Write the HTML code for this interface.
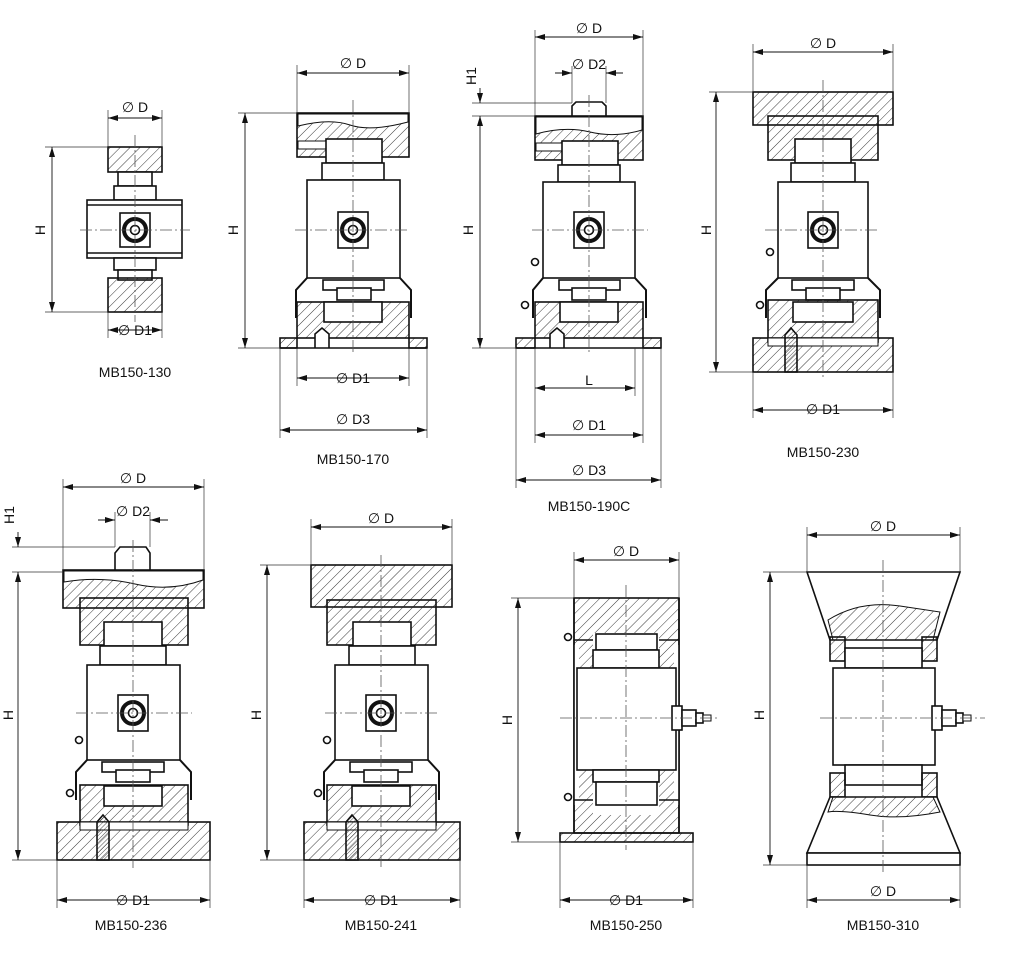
<!DOCTYPE html>
<html><head><meta charset="utf-8"><style>
html,body{margin:0;padding:0;background:#fff;}
svg{display:block;}
text{font-family:"Liberation Sans",sans-serif;fill:#111;}
</style></head><body>
<svg width="1024" height="960" viewBox="0 0 1024 960" xmlns="http://www.w3.org/2000/svg">
<defs>
<pattern id="h" width="7" height="7" patternUnits="userSpaceOnUse" patternTransform="rotate(45)"><line x1="0" y1="0" x2="0" y2="7" stroke="#222" stroke-width="0.9"/></pattern>
<pattern id="hd" width="3" height="3" patternUnits="userSpaceOnUse" patternTransform="rotate(45)"><line x1="0" y1="0" x2="0" y2="3" stroke="#222" stroke-width="0.8"/></pattern>
<marker id="a" viewBox="0 0 10 6" refX="10" refY="3" markerWidth="10" markerHeight="6" orient="auto-start-reverse" markerUnits="userSpaceOnUse"><path d="M0,0L10,3L0,6z" fill="#111"/></marker>
</defs>
<g fill="none" stroke="#111" stroke-width="1.6">

<!-- ============ MB150-130 ============ -->
<g>
<rect x="108" y="147" width="54" height="25" fill="url(#h)"/>
<rect x="118" y="172" width="34" height="14" fill="#fff"/>
<rect x="114" y="186" width="42" height="14" fill="#fff"/>
<rect x="87" y="200" width="95" height="58" fill="#fff"/>
<line x1="87" y1="205" x2="182" y2="205"/><line x1="87" y1="253" x2="182" y2="253"/>
<rect x="114" y="258" width="42" height="12" fill="#fff"/>
<rect x="118" y="270" width="34" height="10" fill="#fff"/>
<rect x="108" y="278" width="54" height="34" fill="url(#h)"/>
<rect x="120" y="213" width="30" height="34" fill="#fff"/>
<circle cx="135" cy="230" r="11" stroke-width="4"/><circle cx="135" cy="230" r="4.5"/>
</g>

<!-- ============ MB150-170 ============ -->
<g>
<rect x="297" y="113" width="112" height="44" fill="url(#h)"/>
<path d="M298,126 Q330,118 350,125 T408,122 L408,114 L298,114z" fill="#fff" stroke="#111" stroke-width="1"/>
<rect x="298" y="141" width="28" height="8" fill="#fff" stroke-width="1"/>
<rect x="326" y="139" width="56" height="24" fill="#fff"/>
<rect x="322" y="163" width="62" height="17" fill="#fff"/>
<rect x="307" y="180" width="93" height="98" fill="#fff"/>
<path d="M307,278 L296,290 L296,318 M400,278 L411,290 L411,318" stroke-width="2"/>
<rect x="323" y="280" width="61" height="10" fill="#fff"/>
<rect x="337" y="288" width="34" height="12" fill="#fff"/>
<rect x="297" y="302" width="112" height="36" fill="url(#h)"/>
<rect x="324" y="302" width="58" height="20" fill="#fff"/>
<path d="M315,348 L315,334 L322,328 L329,334 L329,348" fill="#fff"/>
<rect x="280" y="338" width="17" height="10" fill="url(#h)"/>
<rect x="409" y="338" width="18" height="10" fill="url(#h)"/>
<line x1="280" y1="348" x2="427" y2="348"/>
<rect x="338" y="212" width="30" height="36" fill="#fff"/>
<circle cx="353" cy="230" r="11" stroke-width="4"/><circle cx="353" cy="230" r="4.5"/>
</g>

<!-- ============ MB150-190C ============ -->
<g>
<path d="M572,116 L572,106 L576,102 L602,102 L606,106 L606,116" fill="#fff"/>
<rect x="535" y="116" width="108" height="44" fill="url(#h)"/>
<path d="M536,134 Q565,126 590,132 T642,130 L642,117 L536,117z" fill="#fff" stroke-width="1"/>
<rect x="536" y="143" width="26" height="8" fill="#fff" stroke-width="1"/>
<rect x="562" y="141" width="56" height="24" fill="#fff"/>
<rect x="558" y="165" width="62" height="17" fill="#fff"/>
<rect x="543" y="182" width="92" height="96" fill="#fff"/>
<path d="M543,278 L533,290 L533,318 M635,278 L646,290 L646,318" stroke-width="2"/>
<circle cx="535" cy="262" r="3.5"/><circle cx="525" cy="305" r="3.5"/>
<rect x="559" y="280" width="61" height="10" fill="#fff"/>
<rect x="572" y="288" width="34" height="12" fill="#fff"/>
<rect x="535" y="302" width="108" height="36" fill="url(#h)"/>
<rect x="560" y="302" width="58" height="20" fill="#fff"/>
<path d="M550,348 L550,334 L557,328 L564,334 L564,348" fill="#fff"/>
<rect x="516" y="338" width="19" height="10" fill="url(#h)"/>
<rect x="643" y="338" width="18" height="10" fill="url(#h)"/>
<line x1="516" y1="348" x2="661" y2="348"/>
<rect x="574" y="212" width="30" height="36" fill="#fff"/>
<circle cx="589" cy="230" r="11" stroke-width="4"/><circle cx="589" cy="230" r="4.5"/>
</g>

<!-- ============ MB150-230 ============ -->
<g>
<rect x="753" y="92" width="140" height="33" fill="url(#h)"/>
<rect x="768" y="116" width="110" height="44" fill="url(#h)"/>
<rect x="795" y="139" width="56" height="24" fill="#fff"/>
<rect x="791" y="163" width="64" height="19" fill="#fff"/>
<rect x="778" y="182" width="90" height="96" fill="#fff"/>
<path d="M778,278 L766,290 L766,318 M868,278 L880,290 L880,318" stroke-width="2"/>
<circle cx="770" cy="252" r="3.5"/><circle cx="760" cy="305" r="3.5"/>
<rect x="792" y="280" width="62" height="10" fill="#fff"/>
<rect x="806" y="288" width="34" height="12" fill="#fff"/>
<rect x="768" y="300" width="110" height="42" fill="url(#h)"/>
<rect x="793" y="302" width="60" height="20" fill="#fff"/>
<rect x="753" y="338" width="140" height="34" fill="url(#h)"/>
<rect x="768" y="338" width="110" height="8" fill="#fff" stroke-width="1"/>
<path d="M785,372 L785,335 L791,328 L797,335 L797,372z" fill="url(#hd)"/>
<rect x="808" y="212" width="30" height="36" fill="#fff"/>
<circle cx="823" cy="230" r="11" stroke-width="4"/><circle cx="823" cy="230" r="4.5"/>
</g>

<!-- ============ MB150-236 ============ -->
<g>
<path d="M115,570 L115,553 L120,547 L146,547 L150,553 L150,570" fill="#fff"/>
<rect x="63" y="570" width="141" height="38" fill="url(#h)"/>
<path d="M64,582 Q100,576 135,584 T203,580 L203,571 L64,571z" fill="#fff" stroke-width="1"/>
<rect x="80" y="598" width="108" height="47" fill="url(#h)"/>
<rect x="104" y="622" width="58" height="24" fill="#fff"/>
<rect x="100" y="646" width="66" height="19" fill="#fff"/>
<rect x="87" y="665" width="93" height="95" fill="#fff"/>
<path d="M87,760 L76,772 L76,800 M180,760 L191,772 L191,800" stroke-width="2"/>
<circle cx="79" cy="740" r="3.5"/><circle cx="70" cy="793" r="3.5"/>
<rect x="102" y="762" width="62" height="10" fill="#fff"/>
<rect x="116" y="770" width="34" height="12" fill="#fff"/>
<rect x="80" y="785" width="108" height="40" fill="url(#h)"/>
<rect x="104" y="786" width="58" height="20" fill="#fff"/>
<rect x="57" y="822" width="153" height="38" fill="url(#h)"/>
<rect x="80" y="822" width="108" height="8" fill="#fff" stroke-width="1"/>
<path d="M97,860 L97,822 L103,815 L109,822 L109,860z" fill="url(#hd)"/>
<rect x="118" y="695" width="30" height="36" fill="#fff"/>
<circle cx="133" cy="713" r="11" stroke-width="4"/><circle cx="133" cy="713" r="4.5"/>
</g>

<!-- ============ MB150-241 ============ -->
<g>
<rect x="311" y="565" width="141" height="42" fill="url(#h)"/>
<rect x="327" y="600" width="109" height="45" fill="url(#h)"/>
<rect x="353" y="622" width="58" height="24" fill="#fff"/>
<rect x="349" y="646" width="66" height="19" fill="#fff"/>
<rect x="335" y="665" width="93" height="95" fill="#fff"/>
<path d="M335,760 L324,772 L324,800 M428,760 L439,772 L439,800" stroke-width="2"/>
<circle cx="327" cy="740" r="3.5"/><circle cx="318" cy="793" r="3.5"/>
<rect x="350" y="762" width="62" height="10" fill="#fff"/>
<rect x="364" y="770" width="34" height="12" fill="#fff"/>
<rect x="327" y="785" width="109" height="40" fill="url(#h)"/>
<rect x="352" y="786" width="58" height="20" fill="#fff"/>
<rect x="304" y="822" width="156" height="38" fill="url(#h)"/>
<rect x="327" y="822" width="109" height="8" fill="#fff" stroke-width="1"/>
<path d="M346,860 L346,822 L352,815 L358,822 L358,860z" fill="url(#hd)"/>
<rect x="366" y="695" width="30" height="36" fill="#fff"/>
<circle cx="381" cy="713" r="11" stroke-width="4"/><circle cx="381" cy="713" r="4.5"/>
</g>

<!-- ============ MB150-250 ============ -->
<g>
<rect x="574" y="598" width="105" height="235" fill="url(#h)"/>
<rect x="593" y="633" width="66" height="182" fill="#fff" stroke="none"/>
<rect x="574" y="645" width="5" height="160" fill="#fff" stroke="none"/>
<rect x="674" y="645" width="5" height="160" fill="#fff" stroke="none"/>
<line x1="574" y1="598" x2="574" y2="833"/><line x1="679" y1="598" x2="679" y2="833"/>
<rect x="596" y="634" width="61" height="16" fill="#fff"/>
<rect x="593" y="650" width="66" height="18" fill="#fff"/>
<rect x="577" y="668" width="99" height="102" fill="#fff"/>
<rect x="593" y="770" width="66" height="12" fill="#fff"/>
<rect x="596" y="782" width="61" height="23" fill="#fff"/>
<line x1="574" y1="640" x2="593" y2="640"/><line x1="659" y1="640" x2="679" y2="640"/>
<line x1="574" y1="800" x2="593" y2="800"/><line x1="659" y1="800" x2="679" y2="800"/>
<circle cx="568" cy="637" r="3.5"/><circle cx="568" cy="797" r="3.5"/>
<rect x="560" y="833" width="133" height="9" fill="url(#h)"/>
<rect x="672" y="706" width="10" height="24" fill="#fff"/>
<rect x="682" y="710" width="14" height="16" fill="#fff"/>
<rect x="696" y="713" width="7" height="10" fill="#fff"/>
<rect x="703" y="715" width="8" height="6" fill="#fff" stroke-width="1"/>
</g>

<!-- ============ MB150-310 ============ -->
<g>
<path d="M807,572 L960,572 L937,640 L830,640 z" fill="#fff"/>
<path d="M828,620 Q860,600 900,606 T940,612 L933,640 L833,640z" fill="url(#h)" stroke-width="1"/>
<rect x="830" y="637" width="15" height="24" fill="url(#h)"/>
<rect x="922" y="637" width="15" height="24" fill="url(#h)"/>
<rect x="845" y="648" width="77" height="20" fill="#fff"/>
<rect x="833" y="668" width="102" height="97" fill="#fff"/>
<rect x="845" y="765" width="77" height="20" fill="#fff"/>
<rect x="830" y="773" width="15" height="24" fill="url(#h)"/>
<rect x="922" y="773" width="15" height="24" fill="url(#h)"/>
<path d="M830,797 L937,797 L960,853 L807,853 z" fill="#fff"/>
<path d="M833,797 L933,797 L940,812 Q900,820 870,815 T828,812z" fill="url(#h)" stroke-width="1"/>
<rect x="807" y="853" width="153" height="12" fill="#fff"/>
<rect x="932" y="706" width="10" height="24" fill="#fff"/>
<rect x="942" y="710" width="14" height="16" fill="#fff"/>
<rect x="956" y="713" width="7" height="10" fill="#fff"/>
<rect x="963" y="715" width="8" height="6" fill="#fff" stroke-width="1"/>
</g>
</g>

<!-- centerlines -->
<g stroke="#555" stroke-width="0.8" stroke-dasharray="12 3 2 3" fill="none">
<line x1="135" y1="135" x2="135" y2="322"/><line x1="80" y1="230" x2="190" y2="230"/>
<line x1="353" y1="100" x2="353" y2="355"/><line x1="295" y1="230" x2="410" y2="230"/>
<line x1="589" y1="95" x2="589" y2="355"/><line x1="532" y1="230" x2="648" y2="230"/>
<line x1="823" y1="80" x2="823" y2="380"/><line x1="765" y1="230" x2="880" y2="230"/>
<line x1="133" y1="540" x2="133" y2="868"/><line x1="76" y1="713" x2="192" y2="713"/>
<line x1="381" y1="555" x2="381" y2="868"/><line x1="325" y1="713" x2="440" y2="713"/>
<line x1="626" y1="585" x2="626" y2="850"/><line x1="560" y1="718" x2="720" y2="718"/>
<line x1="883" y1="560" x2="883" y2="875"/><line x1="820" y1="718" x2="985" y2="718"/>
</g>

<!-- extension lines -->
<g stroke="#333" stroke-width="0.7" fill="none">
<line x1="108" y1="110" x2="108" y2="147"/><line x1="162" y1="110" x2="162" y2="147"/>
<line x1="45" y1="147" x2="108" y2="147"/><line x1="45" y1="312" x2="108" y2="312"/>
<line x1="108" y1="312" x2="108" y2="338"/><line x1="162" y1="312" x2="162" y2="338"/>

<line x1="297" y1="65" x2="297" y2="113"/><line x1="409" y1="65" x2="409" y2="113"/>
<line x1="238" y1="113" x2="297" y2="113"/><line x1="238" y1="348" x2="280" y2="348"/>
<line x1="297" y1="348" x2="297" y2="386"/><line x1="409" y1="348" x2="409" y2="386"/>
<line x1="280" y1="348" x2="280" y2="438"/><line x1="427" y1="348" x2="427" y2="438"/>

<line x1="535" y1="30" x2="535" y2="116"/><line x1="643" y1="30" x2="643" y2="116"/>
<line x1="572" y1="66" x2="572" y2="103"/><line x1="606" y1="66" x2="606" y2="103"/>
<line x1="472" y1="103" x2="572" y2="103"/><line x1="472" y1="116" x2="535" y2="116"/>
<line x1="472" y1="348" x2="516" y2="348"/>
<line x1="535" y1="348" x2="535" y2="443"/><line x1="635" y1="348" x2="635" y2="396"/><line x1="643" y1="348" x2="643" y2="443"/>
<line x1="516" y1="348" x2="516" y2="488"/><line x1="661" y1="348" x2="661" y2="488"/>

<line x1="753" y1="44" x2="753" y2="92"/><line x1="893" y1="44" x2="893" y2="92"/>
<line x1="709" y1="92" x2="753" y2="92"/><line x1="709" y1="372" x2="753" y2="372"/>
<line x1="753" y1="372" x2="753" y2="418"/><line x1="893" y1="372" x2="893" y2="418"/>

<line x1="63" y1="479" x2="63" y2="570"/><line x1="204" y1="479" x2="204" y2="570"/>
<line x1="115" y1="512" x2="115" y2="547"/><line x1="150" y1="512" x2="150" y2="547"/>
<line x1="12" y1="547" x2="115" y2="547"/><line x1="12" y1="572" x2="63" y2="572"/>
<line x1="12" y1="860" x2="57" y2="860"/>
<line x1="57" y1="860" x2="57" y2="908"/><line x1="210" y1="860" x2="210" y2="908"/>

<line x1="311" y1="519" x2="311" y2="565"/><line x1="452" y1="519" x2="452" y2="565"/>
<line x1="260" y1="565" x2="311" y2="565"/><line x1="260" y1="860" x2="304" y2="860"/>
<line x1="304" y1="860" x2="304" y2="908"/><line x1="460" y1="860" x2="460" y2="908"/>

<line x1="574" y1="552" x2="574" y2="598"/><line x1="679" y1="552" x2="679" y2="598"/>
<line x1="511" y1="598" x2="574" y2="598"/><line x1="511" y1="842" x2="560" y2="842"/>
<line x1="560" y1="842" x2="560" y2="908"/><line x1="693" y1="842" x2="693" y2="908"/>

<line x1="807" y1="527" x2="807" y2="572"/><line x1="960" y1="527" x2="960" y2="572"/>
<line x1="763" y1="572" x2="807" y2="572"/><line x1="763" y1="865" x2="807" y2="865"/>
<line x1="807" y1="865" x2="807" y2="908"/><line x1="960" y1="865" x2="960" y2="908"/>
</g>

<!-- dimension lines -->
<g stroke="#111" stroke-width="0.9" marker-start="url(#a)" marker-end="url(#a)">
<line x1="108" y1="118" x2="162" y2="118"/>
<line x1="52" y1="147" x2="52" y2="312"/>
<line x1="108" y1="330" x2="162" y2="330"/>
<line x1="297" y1="73" x2="409" y2="73"/>
<line x1="245" y1="113" x2="245" y2="348"/>
<line x1="297" y1="378" x2="409" y2="378"/>
<line x1="280" y1="430" x2="427" y2="430"/>
<line x1="535" y1="37" x2="643" y2="37"/>
<line x1="480" y1="116" x2="480" y2="348"/>
<line x1="535" y1="388" x2="635" y2="388"/>
<line x1="535" y1="435" x2="643" y2="435"/>
<line x1="516" y1="480" x2="661" y2="480"/>
<line x1="753" y1="52" x2="893" y2="52"/>
<line x1="716" y1="92" x2="716" y2="372"/>
<line x1="753" y1="410" x2="893" y2="410"/>
<line x1="63" y1="487" x2="204" y2="487"/>
<line x1="18" y1="572" x2="18" y2="860"/>
<line x1="57" y1="900" x2="210" y2="900"/>
<line x1="311" y1="527" x2="452" y2="527"/>
<line x1="267" y1="565" x2="267" y2="860"/>
<line x1="304" y1="900" x2="460" y2="900"/>
<line x1="574" y1="560" x2="679" y2="560"/>
<line x1="518" y1="598" x2="518" y2="842"/>
<line x1="560" y1="900" x2="693" y2="900"/>
<line x1="807" y1="535" x2="960" y2="535"/>
<line x1="770" y1="572" x2="770" y2="865"/>
<line x1="807" y1="900" x2="960" y2="900"/>
</g>
<!-- outside arrows (D2, H1) -->
<g stroke="#111" stroke-width="0.9" marker-end="url(#a)">
<line x1="555" y1="73" x2="572" y2="73"/><line x1="623" y1="73" x2="606" y2="73"/>
<line x1="480" y1="88" x2="480" y2="103"/>
<line x1="98" y1="520" x2="115" y2="520"/><line x1="168" y1="520" x2="150" y2="520"/>
<line x1="18" y1="532" x2="18" y2="547"/>
</g>

<!-- labels -->
<g font-size="14" text-anchor="middle">
<text x="135" y="112">∅ D</text>
<text x="135" y="335">∅ D1</text>
<text x="135" y="377">MB150-130</text>
<text x="353" y="68">∅ D</text>
<text x="353" y="383">∅ D1</text>
<text x="353" y="424">∅ D3</text>
<text x="353" y="464">MB150-170</text>
<text x="589" y="33">∅ D</text>
<text x="589" y="69">∅ D2</text>
<text x="589" y="385">L</text>
<text x="589" y="430">∅ D1</text>
<text x="589" y="475">∅ D3</text>
<text x="589" y="511">MB150-190C</text>
<text x="823" y="48">∅ D</text>
<text x="823" y="414">∅ D1</text>
<text x="823" y="457">MB150-230</text>
<text x="133" y="483">∅ D</text>
<text x="133" y="516">∅ D2</text>
<text x="133" y="905">∅ D1</text>
<text x="131" y="930">MB150-236</text>
<text x="381" y="523">∅ D</text>
<text x="381" y="905">∅ D1</text>
<text x="381" y="930">MB150-241</text>
<text x="626" y="556">∅ D</text>
<text x="626" y="905">∅ D1</text>
<text x="626" y="930">MB150-250</text>
<text x="883" y="531">∅ D</text>
<text x="883" y="896">∅ D</text>
<text x="883" y="930">MB150-310</text>
</g>
<g font-size="14" text-anchor="middle">
<text transform="translate(45,230) rotate(-90)">H</text>
<text transform="translate(238,230) rotate(-90)">H</text>
<text transform="translate(473,230) rotate(-90)">H</text>
<text transform="translate(476,76) rotate(-90)">H1</text>
<text transform="translate(711,230) rotate(-90)">H</text>
<text transform="translate(14,515) rotate(-90)">H1</text>
<text transform="translate(13,715) rotate(-90)">H</text>
<text transform="translate(261,715) rotate(-90)">H</text>
<text transform="translate(512,720) rotate(-90)">H</text>
<text transform="translate(764,715) rotate(-90)">H</text>
</g>
</svg>
</body></html>
